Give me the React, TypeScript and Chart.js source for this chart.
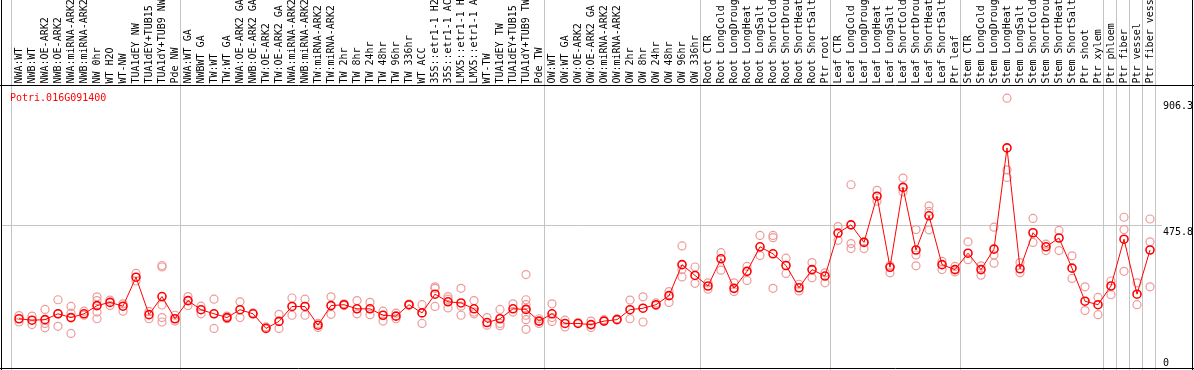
import React, { useEffect, useRef } from "react";
import { Chart, registerables } from "chart.js";

Chart.register(...registerables);

const title = "Potri.016G091400";

const categories: string[] = [
  "NWA:WT", "NWB:WT", "NWA:OE-ARK2", "NWB:OE-ARK2", "NWA:miRNA-ARK2", "NWB:miRNA-ARK2",
  "NW 0hr", "WT H2O", "WT-NW", "TUA1dEY NW", "TUA1dEY+TUB15 NW", "TUA1dY+TUB9 NW", "Pde NW",
  "NWA:WT GA", "NWBWT GA", "TW:WT", "TW:WT GA", "NWA:OE-ARK2 GA", "NWB:OE-ARK2 GA",
  "TW:OE-ARK2", "TW:OE-ARK2 GA", "NWA:miRNA-ARK2 GA", "NWB:miRNA-ARK2 GA", "TW:miRNA-ARK2",
  "TW:miRNA-ARK2 GA", "TW 2hr", "TW 8hr", "TW 24hr", "TW 48hr", "TW 96hr", "TW 336hr",
  "WT ACC", "35S::etr1-1 H2O", "35S::etr1-1 ACC", "LMX5::etr1-1 H2O", "LMX5::etr1-1 ACC",
  "WT-TW", "TUA1dEY TW", "TUA1dEY+TUB15 TW", "TUA1dY+TUB9 TW", "Pde TW",
  "OW:WT", "OW:WT GA", "OW:OE-ARK2", "OW:OE-ARK2 GA", "OW:miRNA-ARK2", "OW:miRNA-ARK2 GA",
  "OW 2hr", "OW 8hr", "OW 24hr", "OW 48hr", "OW 96hr", "OW 336hr",
  "Root CTR", "Root LongCold", "Root LongDrought", "Root LongHeat", "Root LongSalt",
  "Root ShortCold", "Root ShortDrought", "Root ShortHeat", "Root ShortSalt", "Ptr root",
  "Leaf CTR", "Leaf LongCold", "Leaf LongDrought", "Leaf LongHeat", "Leaf LongSalt",
  "Leaf ShortCold", "Leaf ShortDrought", "Leaf ShortHeat", "Leaf ShortSalt", "Ptr leaf",
  "Stem CTR", "Stem LongCold", "Stem LongDrought", "Stem LongHeat", "Stem LongSalt",
  "Stem ShortCold", "Stem ShortDrought", "Stem ShortHeat", "Stem ShortSalt", "Ptr shoot",
  "Ptr xylem", "Ptr phloem", "Ptr fiber", "Ptr vessel", "Ptr fiber vessel",
];

const means: number[] = [
  156, 151, 153, 173, 160, 173, 201, 212, 199, 298,
  170, 232, 156, 218, 187, 173, 160, 187, 173, 123,
  147, 198, 198, 134, 201, 204, 190, 190, 168, 165,
  204, 176, 240, 214, 210, 190, 143, 156, 190, 188,
  148, 173, 140, 140, 136, 148, 153, 187, 192, 204,
  235, 341, 304, 268, 361, 260, 318, 402, 378, 338,
  262, 324, 302, 449, 477, 417, 575, 332, 605, 391,
  508, 341, 324, 380, 324, 394, 740, 327, 450, 402,
  432, 329, 216, 204, 268, 428, 240, 391,
];

const replicates: number[][] = [
  [167, 145], [165, 136], [188, 140, 125], [221, 173, 130], [198, 175, 106],
  [182, 168], [231, 218, 179, 156], [220, 201], [207, 182], [311, 285],
  [181, 156], [338, 333, 203, 160, 145], [168, 148], [232, 201], [199, 173],
  [223, 123], [165, 156], [214, 160], [176], [128],
  [171, 123], [227, 168], [223, 168], [140, 126], [231, 171],
  [207, 201], [218, 173], [212, 170], [182, 148], [175, 156],
  [206, 202], [204, 140], [265, 260, 198], [232, 223, 193], [260, 199, 168],
  [218, 179, 173], [160, 134], [188, 140, 132], [207, 179], [307, 221, 204, 188, 168, 153, 120],
  [156, 140], [207, 160, 147], [151, 128], [143], [148, 126],
  [153], [156], [220, 156], [231, 145], [210, 201],
  [249, 212], [405, 324, 299], [333, 277], [279, 257], [382, 322],
  [279, 249], [335, 287], [441, 372], [441, 433, 260], [363, 311],
  [274, 251], [348, 296], [313, 279], [471, 424], [614, 413, 396],
  [419, 396], [595, 558], [338, 313], [637, 590], [461, 374, 337],
  [542, 523, 460], [352, 324], [335, 316], [419, 358], [337, 305],
  [469, 374, 346], [910, 665, 639], [348, 313], [499, 417], [411, 389],
  [458, 389], [371, 294], [265, 184], [229, 170], [285, 238],
  [503, 461, 318], [279, 204], [497, 419, 265],
];

// separators drawn after these category indices (-1 = before the first)
const groupEnds: number[] = [-1, 12, 40, 52, 62, 72, 83, 84, 85, 86, 87];

const yMax = 951.6;
const midLine = 475.8;
const yTickLabels: number[] = [906.3, 475.8, 0];

const FONT = '10px "DejaVu Sans Mono", "Liberation Mono", monospace';

const decorPlugin = {
  id: "decor",
  beforeDatasetsDraw(chart: any) {
    const { ctx, scales } = chart;
    const xs = scales.x;
    const ys = scales.y;
    const H = chart.height;
    ctx.save();
    ctx.strokeStyle = "#c4c4c4";
    ctx.lineWidth = 1;
    // group separators
    for (const g of groupEnds) {
      const px = Math.floor(xs.getPixelForValue(g + 0.5) - 1.5) + 0.5;
      ctx.beginPath();
      ctx.moveTo(px, 0);
      ctx.lineTo(px, H);
      ctx.stroke();
    }
    // mid horizontal line
    const py = Math.floor(ys.getPixelForValue(midLine)) + 0.5;
    ctx.beginPath();
    ctx.moveTo(1, py);
    ctx.lineTo(1162, py);
    ctx.stroke();
    ctx.restore();
  },
  afterDraw(chart: any) {
    const { ctx, scales } = chart;
    const xs = scales.x;
    const ys = scales.y;
    const W = chart.width;
    const H = chart.height;
    ctx.save();
    // frame lines
    ctx.strokeStyle = "#000";
    ctx.lineWidth = 1;
    ctx.beginPath();
    ctx.moveTo(0, 85.5);
    ctx.lineTo(W, 85.5);
    ctx.moveTo(1.5, 0);
    ctx.lineTo(1.5, H);
    ctx.moveTo(1192.5, 0);
    ctx.lineTo(1192.5, H);
    ctx.moveTo(0, 368.5);
    ctx.lineTo(W, 368.5);
    ctx.stroke();

    // category labels
    ctx.font = FONT;
    ctx.fillStyle = "#000";
    ctx.textAlign = "left";
    ctx.textBaseline = "alphabetic";
    categories.forEach((lab, i) => {
      const x = xs.getPixelForValue(i);
      ctx.save();
      ctx.translate(x + 3, 83.5);
      ctx.rotate(-Math.PI / 2);
      ctx.fillText(lab, 0, 0);
      ctx.restore();
    });

    // title
    ctx.fillStyle = "#ff0000";
    ctx.textBaseline = "alphabetic";
    ctx.fillText(title, 10, 101);

    // right tick labels
    ctx.fillStyle = "#000";
    ctx.textBaseline = "top";
    for (const v of yTickLabels) {
      const y = Math.min(ys.getPixelForValue(v) + 2.5, H - 12);
      ctx.fillText(String(v), 1163, y);
    }
    ctx.restore();
  },
};

export default function App() {
  const ref = useRef<HTMLCanvasElement | null>(null);
  useEffect(() => {
    document.body.style.margin = "0";
    const canvas = ref.current;
    if (!canvas) return;
    const meanData = means.map((v, i) => ({ x: i, y: v }));
    const repData = replicates.flatMap((arr, i) => arr.map((v) => ({ x: i, y: v })));
    const chart = new Chart(canvas, {
      type: "scatter",
      data: {
        datasets: [
          {
            label: "mean",
            data: meanData,
            showLine: true,
            borderColor: "#ff0000",
            borderWidth: 1,
            pointRadius: 4,
            pointBorderWidth: 1.6,
            pointBorderColor: "#ff0000",
            pointBackgroundColor: "rgba(0,0,0,0)",
            tension: 0,
          },
          {
            label: "replicates",
            data: repData,
            showLine: false,
            pointRadius: 4,
            pointBorderWidth: 1.2,
            pointBorderColor: "#ef9a9a",
            pointBackgroundColor: "rgba(0,0,0,0)",
          },
        ],
      },
      options: {
        animation: false,
        responsive: false,
        devicePixelRatio: 1,
        layout: { padding: { left: 12.5, right: 37.5, top: 86, bottom: 0 } },
        scales: {
          x: { type: "linear", min: -0.5, max: 87.5, display: false },
          y: { type: "linear", min: 0, max: yMax, display: false },
        },
        plugins: { legend: { display: false }, tooltip: { enabled: false } },
      },
      plugins: [decorPlugin],
    });
    return () => chart.destroy();
  }, []);
  return (
    <div style={{ width: 1194, height: 370, background: "#fff" }}>
      <canvas ref={ref} width={1194} height={370} style={{ display: "block" }} />
    </div>
  );
}
